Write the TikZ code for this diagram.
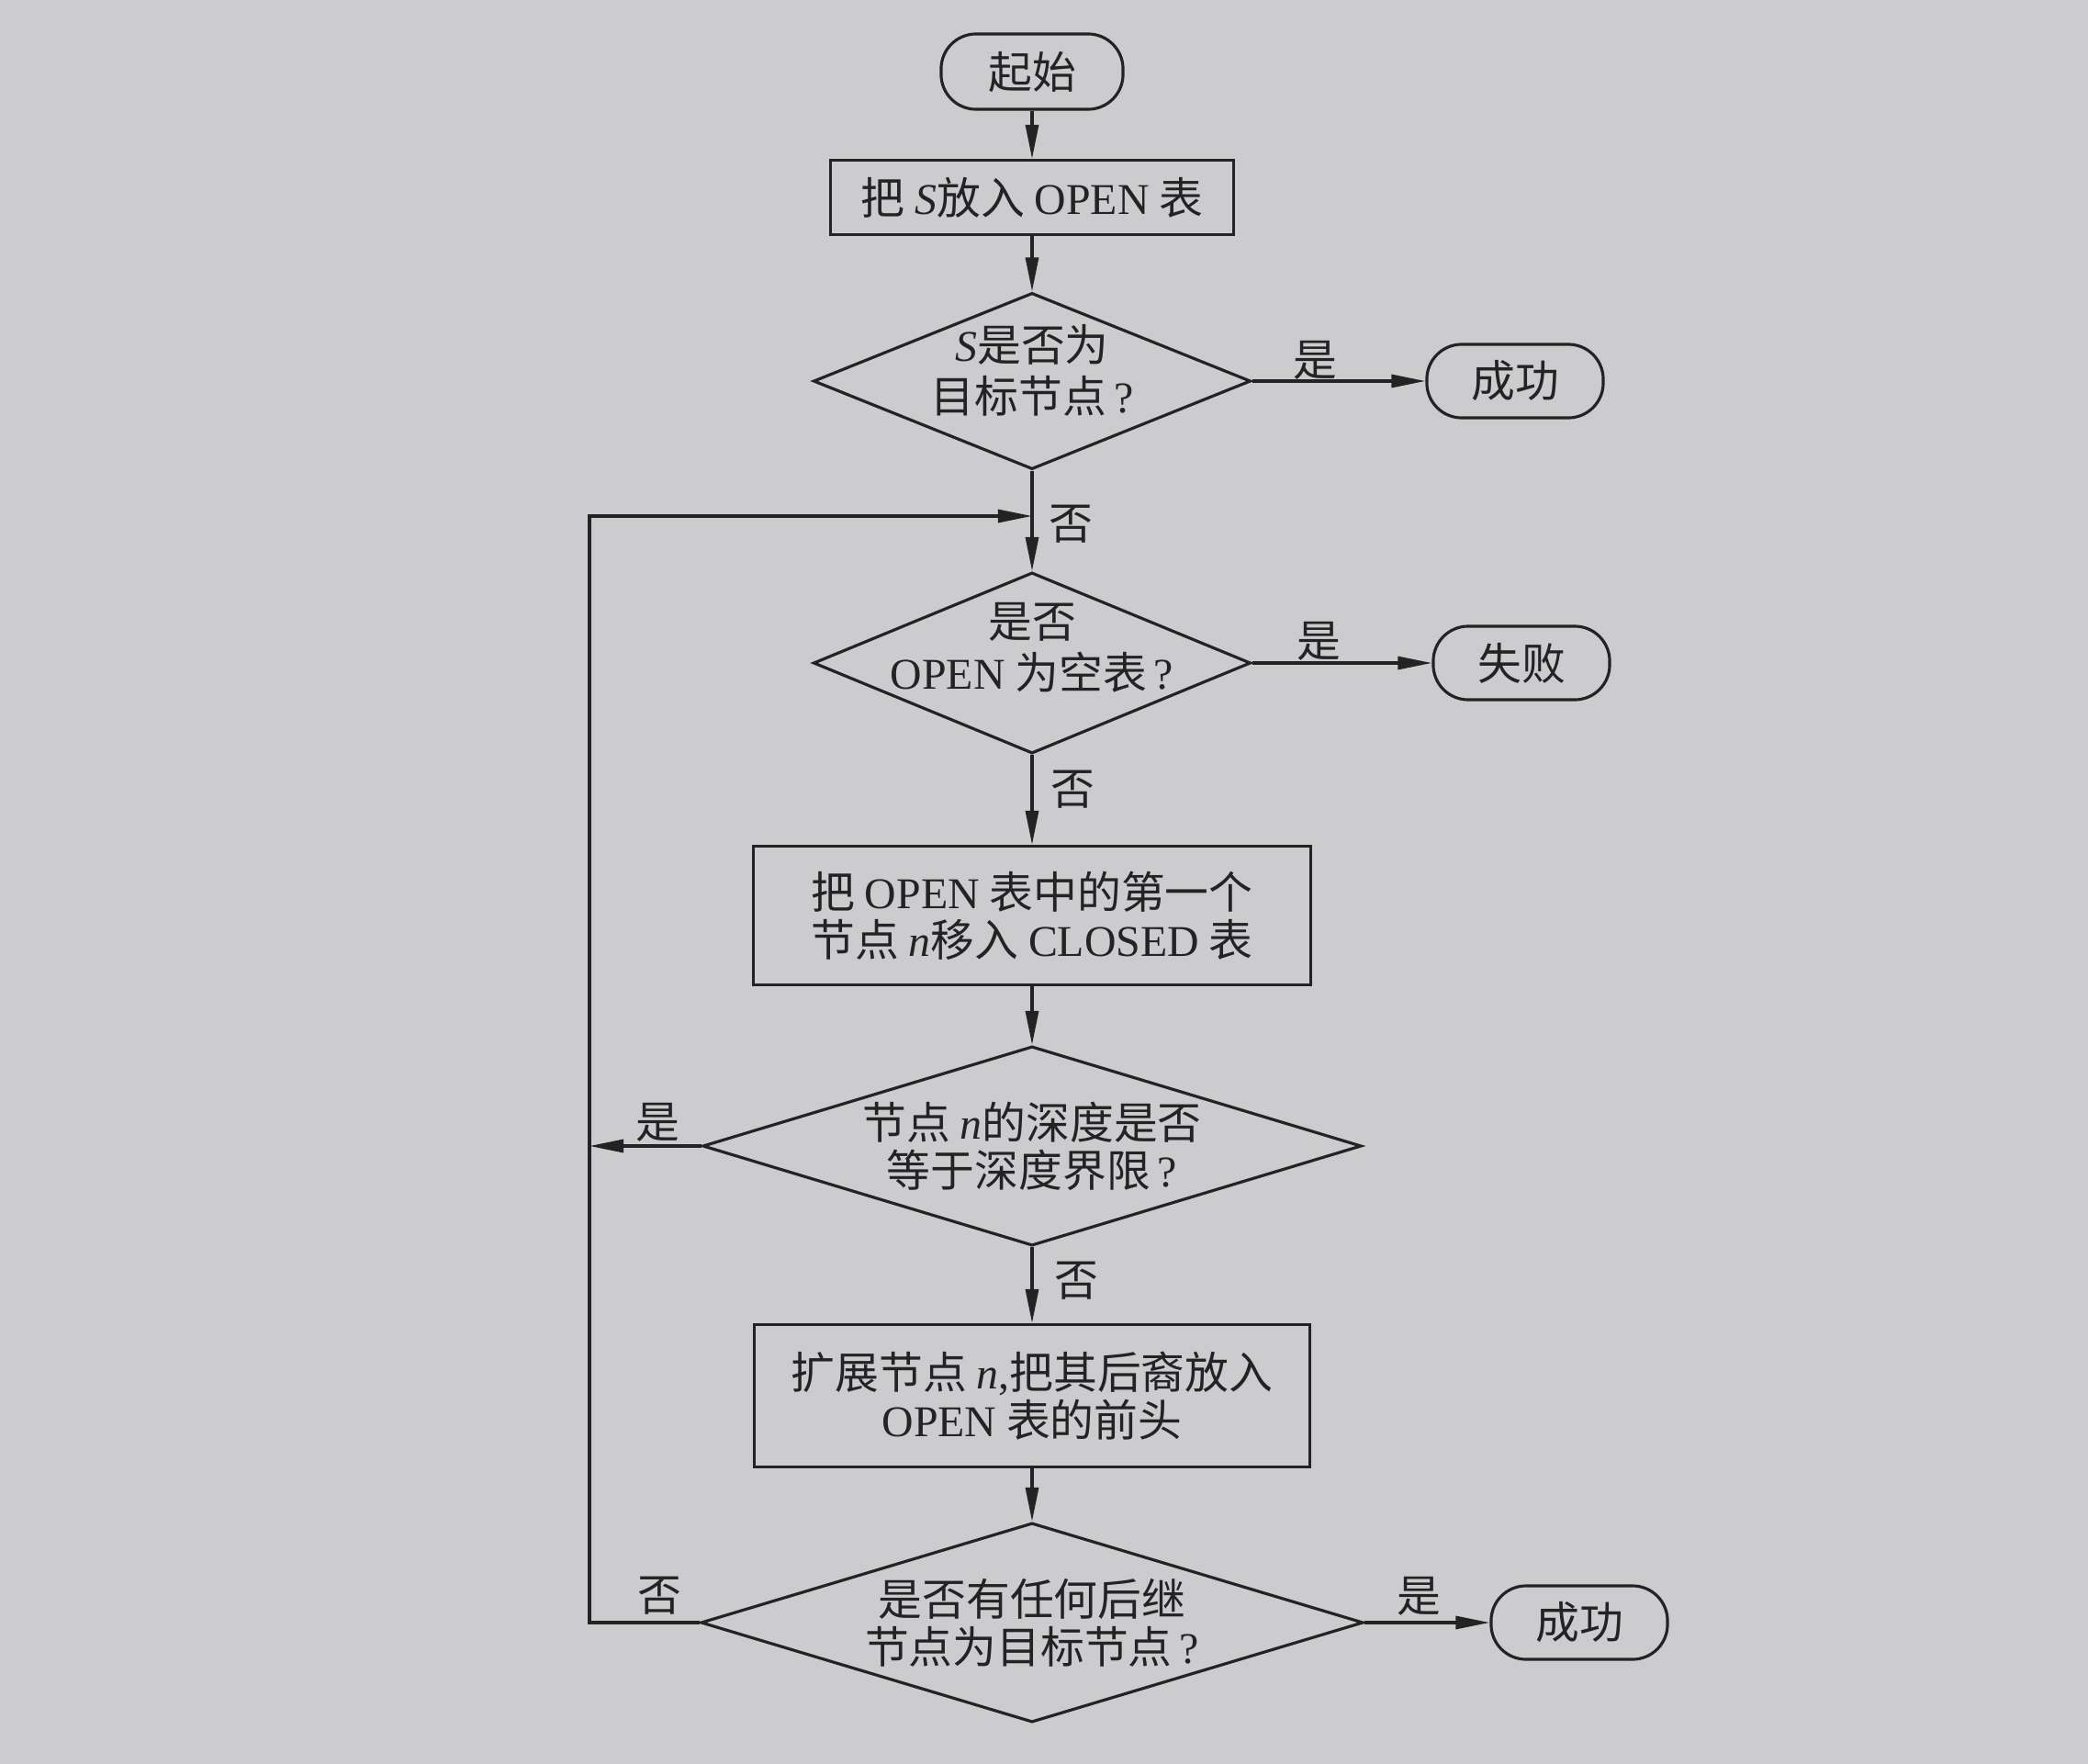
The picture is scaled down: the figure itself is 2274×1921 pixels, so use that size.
\documentclass[tikz,border=0pt]{standalone}
\usepackage{fontspec}
\setmainfont{Noto Sans CJK SC}
\newfontfamily\latfont{Liberation Serif}
\usetikzlibrary{shapes.geometric,arrows.meta}
\definecolor{paper}{RGB}{204,204,206}
\definecolor{ink}{RGB}{35,35,35}
\newcommand{\latx}[1]{{\latfont #1}}
\newcommand{\lati}[1]{{\latfont\itshape #1}}
\newcommand{\qm}{\,\latx{?}}
\newcommand{\liftby}[2]{\smash{\raisebox{#1}{\begin{tabular}{@{}c@{}}#2\end{tabular}}}}
\tikzset{
  base/.style={draw=ink, line width=0.9pt, text=ink, font=\fontsize{13.6}{14.8}\selectfont, align=center},
  term/.style={base, rectangle, rounded corners=0.38cm, minimum width=1.92cm, minimum height=0.8cm, inner sep=0pt},
  proc/.style={base, rectangle, inner sep=0pt},
  dec/.style={base, diamond, inner sep=-2cm},
  lab/.style={text=ink, font=\fontsize{13.6}{14.8}\selectfont, inner sep=0pt},
  arr/.style={draw=ink, line width=0.9pt, -{Triangle[length=0.37cm,width=0.14cm]}},
  ln/.style={draw=ink, line width=0.9pt},
}
\begin{document}
\begin{tikzpicture}[x=0.01cm,y=-0.01cm]
\fill[paper] (0,0) rectangle (2274,1921);
\useasboundingbox (0,0) rectangle (2274,1921);

\node[term, minimum width=1.98cm, minimum height=0.82cm] (start) at (1124,78) {起始};
\node[proc, minimum width=4.39cm, minimum height=0.81cm] (b1) at (1124,215) {把 \lati{S}放入 \latx{OPEN} 表};
\node[dec, minimum width=4.76cm, minimum height=1.92cm] (d1) at (1124,415) {\liftby{-0.07cm}{\lati{S}是否为\\目标节点\qm}};
\node[term] (ok1) at (1650,415) {成功};
\node[dec, minimum width=4.76cm, minimum height=1.97cm] (d2) at (1124,722) {\liftby{-0.02cm}{是否\\\latx{OPEN} 为空表\qm}};
\node[term] (fail) at (1657,722) {失败};
\node[proc, minimum width=6.07cm, minimum height=1.51cm] (b2) at (1124,997) {把 \latx{OPEN} 表中的第一个\\节点 \lati{n}移入 \latx{CLOSED} 表};
\node[dec, minimum width=7.17cm, minimum height=2.17cm] (d3) at (1124,1248) {节点 \lati{n}的深度是否\\等于深度界限\qm};
\node[proc, minimum width=6.05cm, minimum height=1.55cm] (b3) at (1124,1520) {扩展节点 \lati{n}\latx{,}把其后裔放入\\\latx{OPEN} 表的前头};
\node[dec, minimum width=7.21cm, minimum height=2.17cm] (d4) at (1124,1767) {是否有任何后继\\节点为目标节点\qm};
\node[term] (ok2) at (1720,1767) {成功};

\coordinate (join) at (1124,562);
\coordinate (tl) at (642,562);
\coordinate (bl) at (642,1767);
\coordinate (ml) at (642,1248);

\draw[arr] (start) -- (b1);
\draw[arr] (b1) -- (d1);
\draw[arr] (d1.east) -- (ok1.west);
\draw[arr] (d1.south) -- (d2.north);
\draw[arr] (d2.east) -- (fail.west);
\draw[arr] (d2.south) -- (b2.north);
\draw[arr] (b2.south) -- (d3.north);
\draw[arr] (d3.west) -- (ml);
\draw[arr] (d3.south) -- (b3.north);
\draw[arr] (b3.south) -- (d4.north);
\draw[arr] (d4.east) -- (ok2.west);
\draw[arr] (d4.west) -- (bl) -- (tl) -- (join);

\node[lab] (y1) at (1432,392) {是};
\node[lab] (n1) at (1166,571) {否};
\node[lab] (y2) at (1436,698) {是};
\node[lab] (n2) at (1168,860) {否};
\node[lab] (y3) at (716,1222) {是};
\node[lab] (n3) at (1172,1395) {否};
\node[lab] (n4) at (718,1738) {否};
\node[lab] (y4) at (1545,1738) {是};
\end{tikzpicture}
\end{document}
